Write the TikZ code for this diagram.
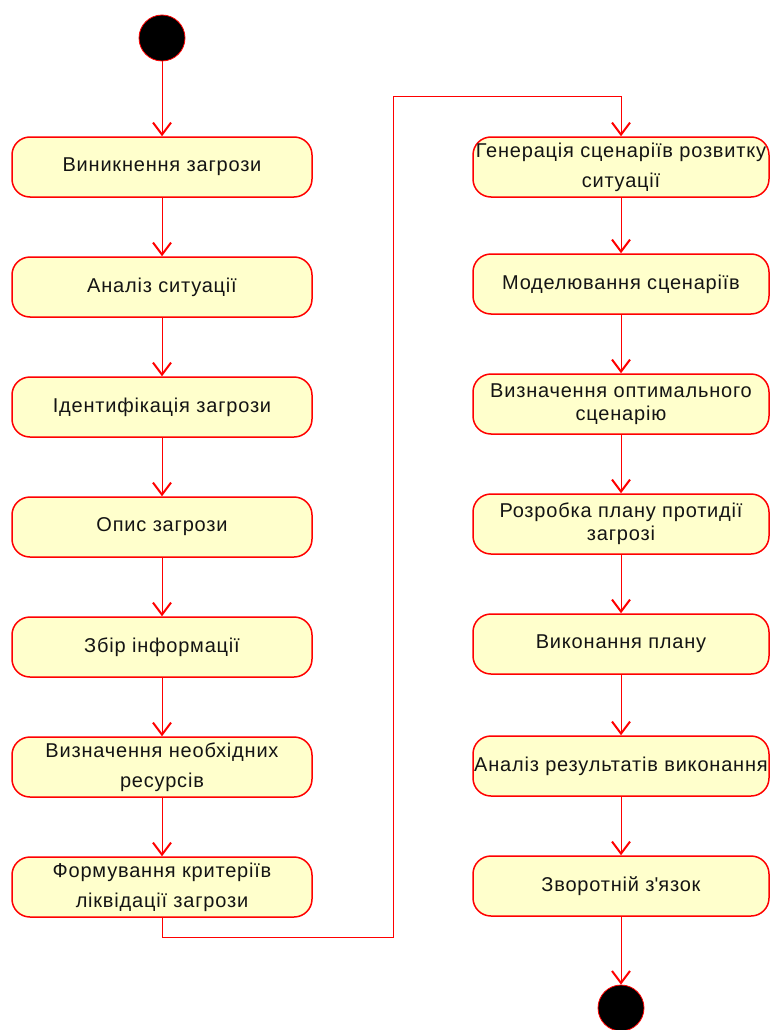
\documentclass[tikz,border=0pt]{standalone}
\usepackage{fontspec}
\setmainfont{Liberation Sans}[LetterSpace=4]
\usetikzlibrary{arrows.meta}
\definecolor{actfill}{RGB}{255,255,204}
\definecolor{umlred}{RGB}{255,0,0}
\definecolor{txt}{RGB}{20,20,20}
\begin{document}
\begin{tikzpicture}[x=1pt,y=-1pt,
  act/.style={draw=umlred, line width=1.5pt, fill=actfill, rounded corners=18pt,
    minimum height=60pt, inner sep=0pt, align=center, text=txt,
    font=\fontsize{20}{23}\selectfont},
  leftact/.style={act, minimum width=300pt},
  rightact/.style={act, minimum width=296pt},
  flow/.style={draw=umlred, line width=0.9pt,
    -{Straight Barb[length=12pt,width=18pt,line width=2pt]}},
  plainflow/.style={draw=umlred, line width=0.9pt},
  startnode/.style={circle, fill=black, draw=umlred, line width=0.8pt,
    minimum size=46pt, inner sep=0pt}]
\useasboundingbox (0,0) rectangle (770,1030);
\clip (0,0) rectangle (770,1030);
\fill[white] (0,0) rectangle (770,1030);

\node[startnode] (start) at (162,38) {};
\node[leftact] (l1) at (162,167) {Виникнення загрози};
\node[leftact] (l2) at (162,287) {Аналіз ситуації};
\node[leftact] (l3) at (162,407) {Ідентифікація загрози};
\node[leftact] (l4) at (162,527) {Опис загрози};
\node[leftact] (l5) at (162,647) {Збір інформації};
\node[leftact] (l6) at (162,767) {Визначення необхідних\\[7pt]ресурсів};
\node[leftact] (l7) at (162,887) {Формування критеріїв\\[7pt]ліквідації загрози};

\node[rightact] (r1) at (621,167) {Генерація сценаріїв розвитку\\[7pt]ситуації};
\node[rightact] (r2) at (621,284) {Моделювання сценаріїв};
\node[rightact] (r3) at (621,404) {Визначення оптимального\\сценарію};
\node[rightact] (r4) at (621,524) {Розробка плану протидії\\загрозі};
\node[rightact] (r5) at (621,644) {Виконання плану};
\node[rightact] (r6) at (621,766) {Аналіз результатів виконання};
\node[rightact] (r7) at (621,886) {Зворотній з\textquotesingle язок};
\node[startnode] (end) at (621,1008) {};

\draw[flow] (start) -- (l1);
\draw[flow] (l1) -- (l2);
\draw[flow] (l2) -- (l3);
\draw[flow] (l3) -- (l4);
\draw[flow] (l4) -- (l5);
\draw[flow] (l5) -- (l6);
\draw[flow] (l6) -- (l7);

\coordinate (c1) at (162,937);
\coordinate (c2) at (393,937);
\coordinate (c3) at (393,96);
\coordinate (c4) at (621,96);
\draw[plainflow] (l7.south) -- (c1) -- (c2) -- (c3) -- (c4);
\draw[flow] (c4) -- (r1.north);

\draw[flow] (r1) -- (r2);
\draw[flow] (r2) -- (r3);
\draw[flow] (r3) -- (r4);
\draw[flow] (r4) -- (r5);
\draw[flow] (r5) -- (r6);
\draw[flow] (r6) -- (r7);
\draw[flow] (r7) -- (end);
\end{tikzpicture}
\end{document}
